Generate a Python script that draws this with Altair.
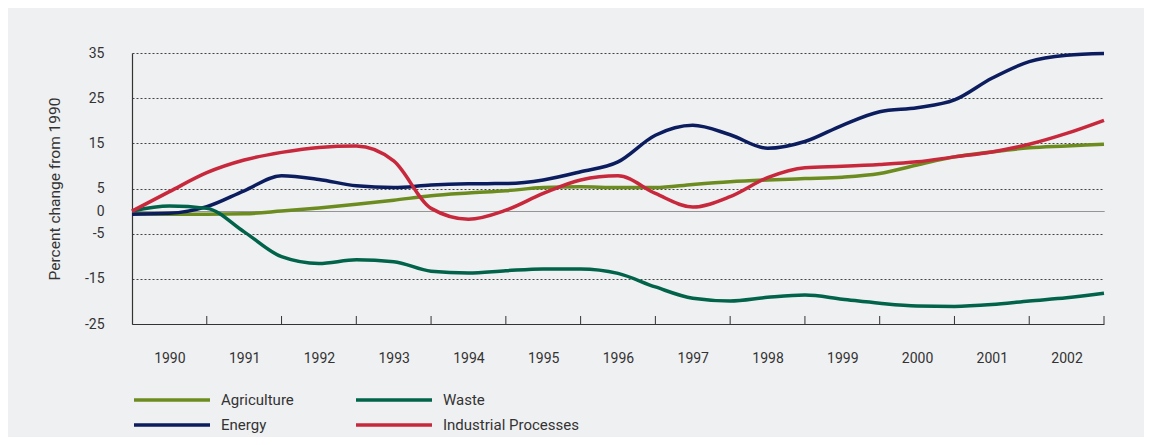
import altair as alt
import pandas as pd

# x position in years from the start of 1990 (0 = start of 1990, 13 = end of 2002)
X_POS = [0, 0.5, 1, 1.5, 2, 2.5, 3, 3.5, 4, 4.5, 5, 5.5, 6, 6.5, 7, 7.5, 8,
         8.5, 9, 9.5, 10, 10.5, 11, 11.5, 12, 12.5, 13]

AGRICULTURE = [-0.5, -0.7, -0.7, -0.6, 0.0, 0.7, 1.5, 2.4, 3.4, 4.0, 4.5, 5.2, 5.4,
               5.2, 5.2, 5.9, 6.5, 6.9, 7.2, 7.5, 8.3, 10.2, 12.0, 13.1, 14.0, 14.4, 14.8]
WASTE = [0.0, 1.1, 0.6, -4.6, -10.1, -11.6, -10.8, -11.2, -13.3, -13.7, -13.2, -12.8, -12.8,
         -13.8, -16.8, -19.3, -19.9, -19.1, -18.6, -19.5, -20.4, -21.0, -21.1, -20.7, -19.9, -19.2, -18.2]
ENERGY = [-0.7, -0.5, 1.0, 4.5, 7.8, 7.0, 5.6, 5.2, 5.8, 6.05, 6.1, 6.9, 8.7,
          10.9, 16.8, 19.0, 16.9, 13.9, 15.4, 19.0, 22.0, 22.9, 24.6, 29.4, 33.1, 34.5, 34.9]
INDUSTRIAL = [0.0, 4.3, 8.5, 11.3, 13.0, 14.1, 14.4, 11.1, 0.6, -1.8, 0.2, 3.9, 6.9,
              7.8, 3.9, 0.9, 3.2, 7.4, 9.6, 9.9, 10.3, 10.9, 12.0, 13.1, 14.8, 17.2, 20.1]

# legend order: first column Agriculture / Energy, second column Waste / Industrial Processes
SERIES = ["Agriculture", "Energy", "Waste", "Industrial Processes"]
COLORS = ["#6c8c1f", "#0b1d5e", "#00634a", "#c8283c"]
SERIES_VALUES = [AGRICULTURE, ENERGY, WASTE, INDUSTRIAL]

Y_TICKS = [-25, -15, -5, 0, 5, 15, 25, 35]
X_TICKS = [1, 2, 3, 4, 5, 6, 7, 8, 9, 10, 11, 12, 13]
FIRST_YEAR = 1990

rows = []
for name, vals in zip(SERIES, SERIES_VALUES):
    for x, v in zip(X_POS, vals):
        rows.append({"x": x, "value": v, "series": name})
df = pd.DataFrame(rows)
ticks_df = pd.DataFrame({"x": X_TICKS})

W, H = 972, 271
FONT = "Roboto"
TXT = "#333333"

xscale = alt.Scale(domain=[0, 13], nice=False, zero=False)
yscale = alt.Scale(domain=[-25, 35], nice=False, zero=False)

x_axis = alt.Axis(
    values=X_TICKS, labelExpr=f"datum.value + {FIRST_YEAR - 1}", labelOffset=-37.4,
    labelFlush=False, ticks=False, grid=False, title=None, labelPadding=27,
    domainColor="#333333", domainWidth=1.2,
)
y_axis = alt.Axis(
    values=Y_TICKS, labelExpr="'' + datum.value", ticks=False, labelPadding=28,
    title="Percent change from 1990", titlePadding=22,
    grid=True,
    gridDash={"condition": {"test": "datum.value === 0", "value": [1, 0]}, "value": [2, 2]},
    gridColor={"condition": {"test": "datum.value === 0", "value": "#777777"}, "value": "#444444"},
    gridWidth=1,
    domainColor="#333333", domainWidth=1.2,
)

lines = alt.Chart(df).mark_line(interpolate="monotone", strokeWidth=3.5).encode(
    x=alt.X("x:Q", scale=xscale, axis=x_axis),
    y=alt.Y("value:Q", scale=yscale, axis=y_axis),
    color=alt.Color(
        "series:N",
        scale=alt.Scale(domain=SERIES, range=COLORS),
        legend=alt.Legend(
            title=None, orient="none", legendX=0, legendY=340, columns=2,
            symbolType="stroke", symbolSize=5776, symbolStrokeWidth=3.5,
            clipHeight=14, rowPadding=10, columnPadding=60, labelOffset=9,
            labelFont=FONT, labelFontSize=15, labelColor=TXT, labelLimit=300,
        ),
    ),
    order=alt.Order("x:Q"),
)

tick_marks = alt.Chart(ticks_df).mark_rule(color="#333333", strokeWidth=1).encode(
    x=alt.X("x:Q", scale=xscale),
    y=alt.value(H),
    y2=alt.value(H - 8),
)

chart = alt.layer(tick_marks, lines).properties(
    width=W, height=H,
    autosize=alt.AutoSizeParams(type="none"),
    padding={"left": 124, "top": 45, "right": 40, "bottom": 113},
    background="#eff0f2",
).configure_view(stroke=None).configure_axis(
    labelFont=FONT, labelFontSize=14, labelColor=TXT,
    titleFont=FONT, titleFontSize=15.5, titleColor=TXT, titleFontWeight="normal",
)

chart.save("out.html", embed_options={"renderer": "svg", "actions": False})
